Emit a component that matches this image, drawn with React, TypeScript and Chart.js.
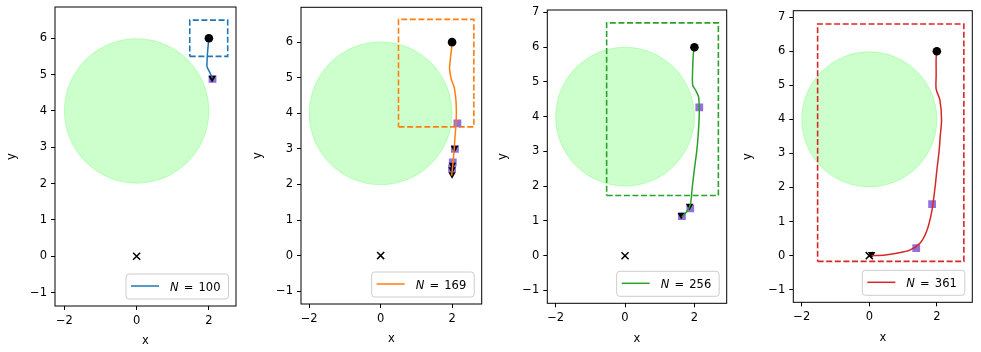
import { useEffect, useRef } from 'react';
import { Chart, registerables } from 'chart.js';

Chart.register(...registerables);

// ---------------- data ----------------
const panelN = [100, 169, 256, 361];
const seriesColors = ['#1f77b4', '#ff7f0e', '#2ca02c', '#d62728'];

const xTicks = [-2, 0, 2];
const yTicksLow = [-1, 0, 1, 2, 3, 4, 5, 6];
const yTicksHigh = [-1, 0, 1, 2, 3, 4, 5, 6, 7];
const yTicksPerPanel = [yTicksLow, yTicksLow, yTicksHigh, yTicksHigh];

const xLimits = [[-2.26, 2.75], [-2.23, 2.83], [-2.24, 2.93], [-2.25, 3.05]];
const yLimits = [[-1.37, 6.86], [-1.36, 6.98], [-1.37, 7.07], [-1.37, 7.19]];

const circleCenter = [0, 4];
const circleRadius = 2;
const startPoint = [2, 6];
const goalPoint = [0, 0];

const traj100 = [[2.0, 6.0], [1.97, 5.7], [1.95, 5.4], [1.95, 5.22], [2.02, 5.07], [2.1, 4.9]];
const traj169 = [[2.0, 6.0], [1.99, 5.86], [1.95, 5.5], [1.93, 5.25], [1.98, 4.95], [2.06, 4.73], [2.11, 4.35], [2.12, 4.0], [2.11, 3.69], [2.08, 3.3], [2.06, 2.99], [2.03, 2.65], [1.99, 2.25]];
const traj256 = [[2.0, 6.0], [1.97, 5.82], [1.95, 5.4], [1.95, 4.91], [2.04, 4.75], [2.12, 4.57], [2.14, 4.1], [2.11, 3.5], [2.07, 3.04], [2.0, 2.5], [1.94, 1.99], [1.88, 1.46], [1.78, 1.27], [1.64, 1.12]];
const traj361 = [[2.0, 6.0], [1.98, 5.8], [1.98, 5.3], [1.98, 4.89], [2.09, 4.57], [2.14, 3.99], [2.1, 3.5], [2.07, 3.1], [2.0, 2.5], [1.95, 2.03], [1.85, 1.3], [1.7, 0.72], [1.5, 0.36], [1.2, 0.16], [0.81, 0.07], [0.47, 0.02], [0.07, 0.0]];
const trajectories = [traj100, traj169, traj256, traj361];

const squares100 = [[2.1, 4.88]];
const squares169 = [[2.15, 3.72], [2.08, 3.0], [2.02, 2.62], [2.0, 2.45]];
const squares256 = [[2.14, 4.27], [1.88, 1.36], [1.64, 1.14]];
const squares361 = [[1.86, 1.51], [1.39, 0.22]];
const squares = [squares100, squares169, squares256, squares361];

const triangles100 = [[2.09, 4.9]];
const triangles169 = [[2.07, 3.02], [2.01, 2.55], [2.0, 2.42], [2.0, 2.28]];
const triangles256 = [[1.86, 1.43], [1.62, 1.17]];
const triangles361 = [[0.07, 0.04]];
const triangles = [triangles100, triangles169, triangles256, triangles361];

const boxX = [[1.47, 2.52], [0.5, 2.61], [-0.53, 2.69], [-1.53, 2.8]];
const boxY = [[5.5, 6.5], [3.62, 6.64], [1.73, 6.7], [-0.17, 6.8]];

// ---------------- layout ----------------
const PAGE_H = 352;
const FONT_SIZE = 11.5;
const LINE_H = FONT_SIZE * 1.2;
const X_AXIS_H = 42.2;
const axesBoxes = [
  { L: 55, T: 7, R: 236, B: 306, d: 42.7 },
  { L: 301, T: 7.3, R: 481.7, B: 304, d: 42.7 },
  { L: 547.3, T: 10, R: 726.7, B: 303.3, d: 44 },
  { L: 793.3, T: 10.7, R: 972.3, B: 302.3, d: 45 },
];

function geometry(i: number) {
  const g = axesBoxes[i];
  const canvasLeft = Math.floor(g.L - g.d - LINE_H / 2);
  const yW = g.L - canvasLeft;
  const width = Math.ceil(g.R - canvasLeft + 4);
  const padRight = width - (g.R - canvasLeft);
  const padBottom = PAGE_H - g.B - X_AXIS_H;
  const titlePad = g.L - g.d - canvasLeft - LINE_H / 2;
  return { canvasLeft, yW, width, padRight, padBottom, padTop: g.T, titlePad };
}

const pts = (arr: number[][]) => arr.map(([x, y]) => ({ x, y }));
const fmt = (v: number) => (v < 0 ? '\u2212' + Math.abs(v) : String(v));

const framePlugin = {
  id: 'frame',
  afterDatasetsDraw(chart: any) {
    const { ctx, chartArea: a } = chart;
    ctx.save();
    ctx.strokeStyle = '#000';
    ctx.lineWidth = 1;
    ctx.strokeRect(a.left, a.top, a.right - a.left, a.bottom - a.top);
    ctx.restore();
  },
};

function makeLegendPlugin(i: number) {
  return {
    id: 'mplLegend',
    afterDraw(chart: any) {
      const { ctx, chartArea: a } = chart;
      ctx.save();
      const reg = `${FONT_SIZE}px "DejaVu Sans"`;
      const ital = `italic ${FONT_SIZE}px "DejaVu Sans"`;
      const gap = 1.5;
      ctx.font = ital;
      const wN = ctx.measureText('N').width;
      ctx.font = reg;
      const wSp = ctx.measureText(' ').width + gap;
      const wEq = ctx.measureText('=').width;
      const num = String(panelN[i]);
      const wNum = ctx.measureText(num).width;
      const textW = wN + wSp + wEq + wSp + wNum;
      const h = 25;
      const w = 44 + textW + 8;
      const x = a.right - 7.5 - w;
      const y = a.bottom - 7 - h;
      ctx.beginPath();
      ctx.roundRect(x, y, w, h, 3);
      ctx.fillStyle = 'rgba(255,255,255,0.8)';
      ctx.fill();
      ctx.strokeStyle = '#cccccc';
      ctx.lineWidth = 1;
      ctx.stroke();
      ctx.beginPath();
      ctx.moveTo(x + 5, y + h / 2 - 0.5);
      ctx.lineTo(x + 33, y + h / 2 - 0.5);
      ctx.strokeStyle = seriesColors[i];
      ctx.lineWidth = 1.5;
      ctx.stroke();
      ctx.fillStyle = '#000';
      ctx.textBaseline = 'alphabetic';
      const base = y + h / 2 + 4;
      let cx = x + 44;
      ctx.font = ital;
      ctx.fillText('N', cx, base);
      cx += wN + wSp;
      ctx.font = reg;
      ctx.fillText('=', cx, base);
      cx += wEq + wSp;
      ctx.fillText(num, cx, base);
      ctx.restore();
    },
  };
}

function Panel({ i }: { i: number }) {
  const ref = useRef<HTMLCanvasElement | null>(null);
  const geo = geometry(i);

  useEffect(() => {
    const canvas = ref.current;
    if (!canvas) return;
    const color = seriesColors[i];
    const [bx0, bx1] = boxX[i];
    const [by0, by1] = boxY[i];
    const boxCorners = [[bx0, by0], [bx1, by0], [bx1, by1], [bx0, by1], [bx0, by0]];
    const fixPad = (s: any) => {
      s.paddingLeft = 0;
      s.paddingRight = 0;
      s.paddingTop = 0;
      s.paddingBottom = 0;
    };
    const font = { family: '"DejaVu Sans"', size: FONT_SIZE };

    const chart = new Chart(canvas, {
      type: 'scatter',
      data: {
        datasets: [
          {
            label: 'goal',
            data: pts([goalPoint]),
            pointStyle: 'crossRot',
            pointRadius: 5,
            pointBorderColor: '#000',
            pointBorderWidth: 1.5,
            order: 0,
          },
          {
            label: 'start',
            data: pts([startPoint]),
            pointStyle: 'circle',
            pointRadius: 4.3,
            pointBackgroundColor: '#000',
            pointBorderColor: '#000',
            pointBorderWidth: 0,
            order: 1,
          },
          {
            label: 'N = ' + panelN[i],
            data: pts(trajectories[i]),
            showLine: true,
            borderColor: color,
            borderWidth: 1.5,
            pointRadius: 0,
            tension: 0.3,
            order: 2,
          },
          {
            label: 'triangles',
            data: pts(triangles[i]),
            pointStyle: 'triangle',
            pointRotation: 180,
            pointRadius: 4.3,
            pointBackgroundColor: '#000',
            pointBorderColor: '#000',
            pointBorderWidth: 0,
            order: 3,
          },
          {
            label: 'squares',
            data: pts(squares[i]),
            pointStyle: 'rect',
            pointRadius: 5.5,
            pointBackgroundColor: '#9370db',
            pointBorderWidth: 0,
            order: 4,
          },
          {
            label: 'bounds',
            data: pts(boxCorners),
            showLine: true,
            borderColor: color,
            borderWidth: 1.6,
            borderDash: [6, 2.6],
            pointRadius: 0,
            tension: 0,
            order: 5,
          },
          {
            label: 'obstacle',
            data: pts([circleCenter]),
            pointStyle: 'circle',
            pointRadius: (ctx: any) => {
              const s = ctx.chart.scales.x;
              const r = Math.abs(
                s.getPixelForValue(circleCenter[0] + circleRadius) - s.getPixelForValue(circleCenter[0])
              );
              return isFinite(r) ? r : 0;
            },
            pointBackgroundColor: 'rgba(0,255,0,0.2)',
            pointBorderColor: 'rgba(0,255,0,0.2)',
            pointBorderWidth: 1,
            order: 6,
          },
        ] as any,
      },
      options: {
        animation: false,
        responsive: false,
        devicePixelRatio: 1,
        events: [],
        layout: {
          autoPadding: false,
          padding: { left: 0, top: geo.padTop, right: geo.padRight, bottom: geo.padBottom },
        },
        plugins: {
          legend: { display: false },
          tooltip: { enabled: false },
        },
        scales: {
          x: {
            type: 'linear',
            min: xLimits[i][0],
            max: xLimits[i][1],
            bounds: 'data',
            afterBuildTicks: (s: any) => {
              s.ticks = xTicks.map((v) => ({ value: v }));
            },
            afterFit: (s: any) => {
              s.height = X_AXIS_H;
              fixPad(s);
            },
            ticks: {
              callback: (v: any) => fmt(Number(v)),
              padding: 4,
              color: '#000',
              font,
              maxRotation: 0,
              autoSkip: false,
            },
            grid: { drawOnChartArea: false, drawTicks: true, tickLength: 4, color: '#000', lineWidth: 1 },
            border: { display: false },
            title: { display: true, text: 'x', padding: 0, color: '#000', font },
          },
          y: {
            type: 'linear',
            min: yLimits[i][0],
            max: yLimits[i][1],
            bounds: 'data',
            afterBuildTicks: (s: any) => {
              s.ticks = yTicksPerPanel[i].map((v) => ({ value: v }));
            },
            afterFit: (s: any) => {
              s.width = geo.yW;
              fixPad(s);
            },
            ticks: {
              callback: (v: any) => fmt(Number(v)),
              padding: 4,
              color: '#000',
              font,
              autoSkip: false,
            },
            grid: { drawOnChartArea: false, drawTicks: true, tickLength: 4, color: '#000', lineWidth: 1 },
            border: { display: false },
            title: {
              display: true,
              text: 'y',
              padding: { top: geo.titlePad, bottom: 0 },
              color: '#000',
              font,
            },
          },
        },
      } as any,
      plugins: [framePlugin, makeLegendPlugin(i)],
    });
    return () => chart.destroy();
  }, [i]);

  return (
    <canvas
      ref={ref}
      width={geo.width}
      height={PAGE_H}
      style={{ position: 'absolute', left: geo.canvasLeft, top: 0, width: geo.width, height: PAGE_H, display: 'block' }}
    />
  );
}

export default function App() {
  return (
    <div style={{ position: 'absolute', left: 0, top: 0, width: 981, height: PAGE_H, background: '#fff', overflow: 'hidden' }}>
      {[0, 1, 2, 3].map((i) => (
        <Panel key={i} i={i} />
      ))}
    </div>
  );
}
